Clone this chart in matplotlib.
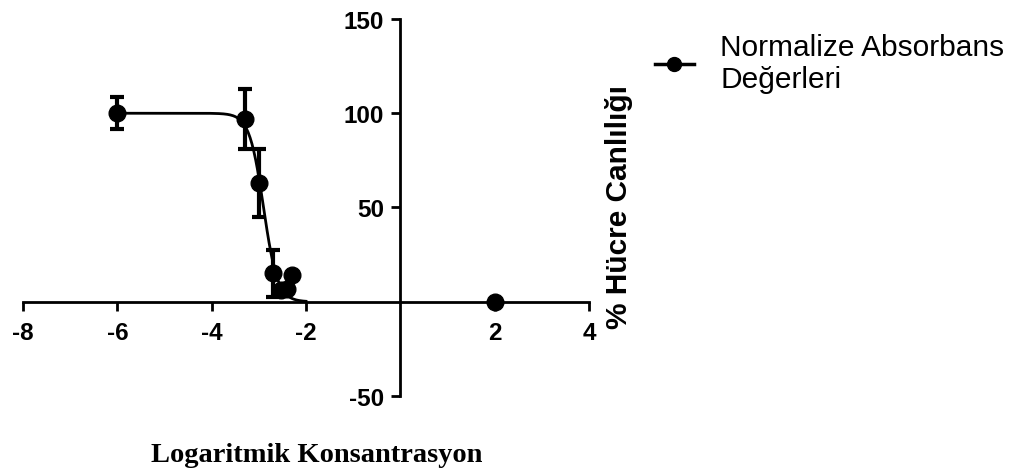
import numpy as np
import matplotlib.pyplot as plt

# log concentration vs normalized viability
log_conc = [-6.0, -3.3, -3.0, -2.7, -2.54, -2.4, -2.3, 2.0]
viability = [100.0, 97.0, 63.0, 15.0, 6.0, 7.0, 14.0, 0.0]
sem = [8.5, 16.0, 18.0, 12.5, 0.0, 0.0, 0.0, 0.0]

# fitted sigmoid (top, bottom, logIC50, hill slope)
top, bottom, log_ic50, hill = 100.0, 0.0, -2.9, 2.9
fit_x = np.linspace(-6.0, -2.0, 200)
fit_y = bottom + (top - bottom) / (1 + 10 ** ((fit_x - log_ic50) * hill))

x_ticks = [-8, -6, -4, -2, 2, 4]
y_ticks = [-50, 50, 100, 150]

plt.rcParams['font.family'] = ['Liberation Sans', 'DejaVu Sans']
plt.rcParams['axes.unicode_minus'] = False

fig = plt.figure(figsize=(10.21, 4.77), dpi=100)
ax = fig.add_axes([0.0225, 0.1677, 0.5544, 0.7904])

ax.plot(fit_x, fit_y, color='black', linewidth=2)
ax.errorbar(log_conc, viability, yerr=sem, fmt='o', color='black', markersize=12,
            elinewidth=3, capsize=5, capthick=3, zorder=3)

# legend handle only
ax.plot([], [], color='black', linewidth=2.5, marker='o', markersize=10,
        label='Normalize Absorbans\nDeğerleri')

ax.set_xlim(-8, 4)
ax.set_ylim(-50, 150)
ax.spines['left'].set_position(('data', 0))
ax.spines['bottom'].set_position(('data', 0))
ax.spines['right'].set_visible(False)
ax.spines['top'].set_visible(False)
for s in ['left', 'bottom']:
    ax.spines[s].set_linewidth(2)
ax.set_xticks(x_ticks)
ax.set_yticks(y_ticks)
ax.tick_params(direction='out', length=6.5, width=2, labelsize=17.5)
ax.tick_params(axis='x', pad=7)
ax.tick_params(axis='y', pad=5)
for lab in ax.get_xticklabels() + ax.get_yticklabels():
    lab.set_fontweight('bold')

fig.text(0.606, 0.566, '% Hücre Canlılığı', rotation=90, ha='center', va='center',
         fontsize=21.5, fontweight='bold')
fig.text(0.31, 0.046, 'Logaritmik Konsantrasyon', ha='center', va='center',
         fontsize=20.5, fontweight='bold', family=['Liberation Serif', 'DejaVu Serif'])

fig.legend(loc='upper left', bbox_to_anchor=(0.615, 0.985), frameon=False,
           fontsize=21.5, handlelength=1.3, handletextpad=0.9, labelspacing=0.2)

fig.savefig('out.png', dpi=100)
